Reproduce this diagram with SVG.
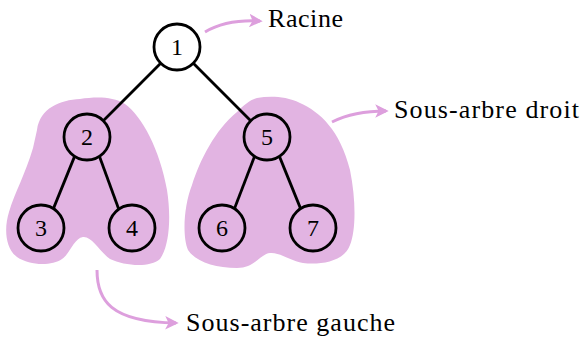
<svg xmlns="http://www.w3.org/2000/svg" width="583" height="337" viewBox="0 0 583 337">
  <style>
    .blob { fill: #e2b4e2; stroke: none; }
    .node circle { fill: none; stroke: #000; stroke-width: 2.8; }
    .node text { font-size: 24px; text-anchor: middle; fill: #000; }
    .edge { stroke: #000; stroke-width: 2.8; fill: none; }
    .pointer { stroke: #dd9fdd; stroke-width: 3; fill: none; marker-end: url(#tip); }
    .label { font-size: 26px; fill: #000; }
  </style>
  <defs>
    <marker id="tip" viewBox="0 0 10 10" refX="8" refY="5" markerWidth="4.5" markerHeight="4.5" orient="auto" markerUnits="strokeWidth">
      <path d="M0,0 L10,5 L0,10 L2.5,5 Z" fill="#dd9fdd"/>
    </marker>
  </defs>

  <!-- subtree highlights -->
  <g id="left-subtree-area">
    <path class="blob" d="M37,130 C40,108 60,100 80,99 C95,97 112,96 125,104 C142,116 160,150 167,190 C171,215 170,245 160,259 C150,268 125,266 110,259 C100,252 92,236 83,237 C74,238 70,254 62,259 C52,266 30,266 17,257 C5,248 4,228 9,212 C15,192 25,175 33,148 Z"/>
  </g>
  <g id="right-subtree-area">
    <path class="blob" d="M257,98 C270,96 285,96 300,103 C320,112 340,130 350,170 C356,200 356,230 350,245 C344,262 320,265 303,263 C290,261 280,252 270,253 C260,254 255,268 237,268 C215,268 196,262 188,250 C182,236 184,205 192,185 C200,160 215,130 237,112 C244,105 250,100 257,98 Z"/>
  </g>

  <!-- tree edges -->
  <g id="edges">
    <line class="edge" x1="160.7" y1="63.3" x2="103.3" y2="120.7"/>
    <line class="edge" x1="193.3" y1="63.3" x2="250.7" y2="120.7"/>
    <line class="edge" x1="74.5" y1="156.6" x2="53.5" y2="208.4"/>
    <line class="edge" x1="99.5" y1="156.6" x2="118.5" y2="208.4"/>
    <line class="edge" x1="254.5" y1="156.6" x2="234.5" y2="208.4"/>
    <line class="edge" x1="279.5" y1="156.6" x2="300.5" y2="208.4"/>
  </g>

  <!-- nodes -->
  <g font-family="Liberation Serif, serif">
    <g id="node-1" class="node"><circle cx="177" cy="47" r="23"/><text x="177" y="55">1</text></g>
    <g id="node-2" class="node"><circle cx="87" cy="137" r="23"/><text x="87" y="145">2</text></g>
    <g id="node-3" class="node"><circle cx="41" cy="228" r="23"/><text x="41" y="236">3</text></g>
    <g id="node-4" class="node"><circle cx="132" cy="228" r="23"/><text x="132" y="236">4</text></g>
    <g id="node-5" class="node"><circle cx="267" cy="137" r="23"/><text x="267" y="145">5</text></g>
    <g id="node-6" class="node"><circle cx="222" cy="228" r="23"/><text x="222" y="236">6</text></g>
    <g id="node-7" class="node"><circle cx="313" cy="228" r="23"/><text x="313" y="236">7</text></g>
  </g>

  <!-- annotations -->
  <g id="annotation-arrows">
    <path class="pointer" d="M205,32 C220,23 240,20 260,21"/>
    <path class="pointer" d="M332,122 C348,114 365,111 386,111"/>
    <path class="pointer" d="M97,270 C97,300 110,322 176,323"/>
  </g>
  <g id="annotation-labels" font-family="Liberation Serif, serif">
    <text class="label" x="268" y="27" textLength="75" lengthAdjust="spacing">Racine</text>
    <text class="label" x="394" y="118" textLength="185" lengthAdjust="spacing">Sous-arbre droit</text>
    <text class="label" x="186" y="331" textLength="209" lengthAdjust="spacing">Sous-arbre gauche</text>
  </g>
</svg>
